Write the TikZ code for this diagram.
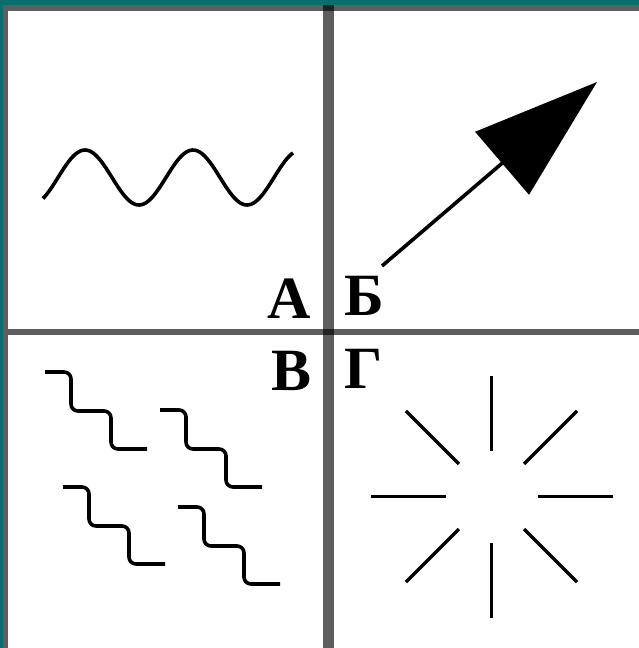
\documentclass[tikz,border=0pt]{standalone}
\usepackage{fontspec}
\setmainfont{Liberation Serif}
\usetikzlibrary{arrows.meta}
\definecolor{frameteal}{RGB}{10,110,110}

\begin{document}
\begin{tikzpicture}[x=1pt, y=-1pt, line width=3.6pt,
    rule/.style={fill=black, fill opacity=0.63},
    ray/.style={line width=3.2pt},
    letter/.style={font=\fontsize{60}{60}\selectfont\bfseries, inner sep=0pt}]
  \useasboundingbox (0,0) rectangle (639,648);
  \fill[white] (0,0) rectangle (639,648);
  % frame and dividers
  \fill[frameteal] (0,0) rectangle (639,5);
  \fill[frameteal] (0,0) rectangle (3,648);
  \fill[rule] (3,5) rectangle (639,11);
  \fill[rule] (3,11) rectangle (8,648);
  \fill[rule] (323,5) rectangle (334,648);
  \fill[rule] (8,329) rectangle (639,335);
  % A: wave
  \draw plot[domain=43:293, samples=120, smooth] (\x, {177.5-27.5*sin((\x-58)/108*360)});
  % B: arrow
  \coordinate (tail) at (382,266);
  \coordinate (head) at (597,82);
  \draw[-{Triangle[length=125pt,width=82pt]}] (tail) -- (head);
  % V: squiggles
  \foreach \sx/\sy in {45/372, 160/410, 63/487, 178/507}
    \draw[rounded corners=7pt] (\sx,\sy) -- ++(26,0) -- ++(0,39) -- ++(40,0) -- ++(0,38) -- ++(36,0);
  % G: burst
  \coordinate (burst) at (491.5,496.5);
  \foreach \a in {0,45,...,315}
    \draw[ray] (burst) ++(\a:46) -- ++(\a:75);
  % letters
  \node[letter, anchor=base east] (qa) at (313,318) {А};
  \node[letter, anchor=base west] (qb) at (343,315) {Б};
  \node[letter, anchor=base east] (qv) at (313,390) {В};
  \node[letter, anchor=base west] (qg) at (343,388) {Г};
\end{tikzpicture}
\end{document}
